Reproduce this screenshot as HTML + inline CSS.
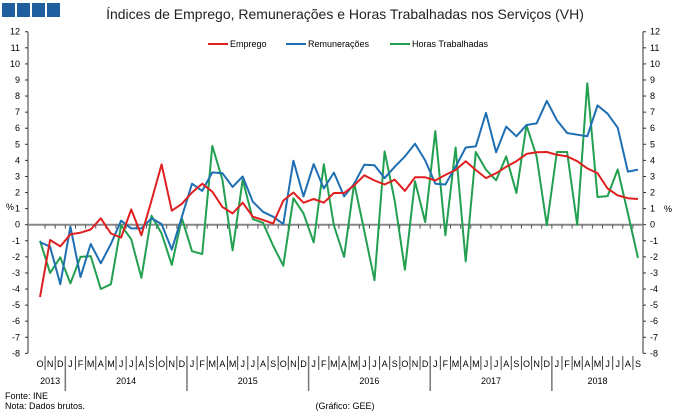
<!DOCTYPE html>
<html><head><meta charset="utf-8"><style>
body{margin:0;background:#fff;}
svg{display:block;font-family:"Liberation Sans",sans-serif;}
</style></head><body>
<svg id="chart" width="680" height="416" viewBox="0 0 680 416" xmlns="http://www.w3.org/2000/svg">
<rect x="0" y="0" width="680" height="416" fill="#fff"/>
<g>
<rect x="2" y="3" width="13" height="14" fill="#1f5f9f"/><rect x="17" y="3" width="13" height="14" fill="#1f5f9f"/><rect x="32" y="3" width="13" height="14" fill="#1f5f9f"/><rect x="47" y="3" width="13" height="14" fill="#1f5f9f"/>
</g>
<text x="345" y="19" font-size="14" text-anchor="middle" fill="#222">Índices de Emprego, Remunerações e Horas Trabalhadas nos Serviços (VH)</text>
<g id="legend" font-size="9" fill="#000">
<g><line x1="208" y1="44" x2="228" y2="44" stroke="#e02020" stroke-width="2"/><text x="230" y="47">Emprego</text></g>
<g><line x1="286" y1="44" x2="306" y2="44" stroke="#1f6fb2" stroke-width="2"/><text x="308" y="47">Remunerações</text></g>
<g><line x1="390" y1="44" x2="410" y2="44" stroke="#22a050" stroke-width="2"/><text x="412" y="47">Horas Trabalhadas</text></g>
</g>
<g id="axes"></g>
<g id="series"></g>
<text x="5" y="399" font-size="9">Fonte: INE</text>
<text x="5" y="409" font-size="9">Nota: Dados brutos.</text>
<text x="345" y="409" font-size="9" text-anchor="middle">(Gráfico: GEE)</text>
</svg>
<script>
const months = ["O","N","D","J","F","M","A","M","J","J","A","S","O","N","D","J","F","M","A","M","J","J","A","S","O","N","D","J","F","M","A","M","J","J","A","S","O","N","D","J","F","M","A","M","J","J","A","S","O","N","D","J","F","M","A","M","J","J","A","S"];
const years = ["2013","2014","2015","2016","2017","2018"];
const yTicks = [-8,-7,-6,-5,-4,-3,-2,-1,0,1,2,3,4,5,6,7,8,9,10,11,12];
const emprego = [-4.5,-0.95,-1.35,-0.6,-0.5,-0.3,0.4,-0.55,-0.8,0.95,-0.65,1.5,3.75,0.87,1.3,2.0,2.55,2.05,1.1,0.7,1.37,0.5,0.3,0.07,1.5,2.0,1.37,1.6,1.37,1.97,1.97,2.45,3.07,2.75,2.5,2.8,2.1,2.95,2.95,2.75,3.1,3.4,3.95,3.4,2.9,3.2,3.6,3.95,4.4,4.5,4.52,4.35,4.25,3.95,3.5,3.2,2.25,1.82,1.65,1.6];
const remuneracoes = [-1.08,-1.37,-3.7,-0.12,-3.25,-1.2,-2.4,-1.2,0.25,-0.23,-0.23,0.4,0.04,-1.55,0.5,2.55,2.1,3.25,3.2,2.35,3.0,1.43,0.8,0.5,0.04,3.98,1.76,3.77,2.25,3.24,1.76,2.55,3.73,3.7,2.9,3.6,4.25,5.04,4.0,2.55,2.5,3.6,4.8,4.87,6.95,4.5,6.1,5.5,6.2,6.3,7.7,6.5,5.7,5.6,5.5,7.42,6.9,6.03,3.3,3.42];
const horas = [-1.0,-3.0,-2.03,-3.65,-2.0,-1.95,-4.0,-3.7,-0.04,-0.9,-3.3,0.56,-0.55,-2.5,0.4,-1.65,-1.83,4.9,2.8,-1.6,2.8,0.35,0.12,-1.3,-2.55,1.65,0.7,-1.1,3.77,-0.05,-2.0,2.6,-0.4,-3.45,4.56,1.5,-2.8,2.7,0.17,5.82,-0.66,4.8,-2.28,4.52,3.42,2.76,4.25,1.97,6.18,4.25,-0.04,4.52,4.52,0,8.8,1.72,1.78,3.44,0.7,-2.07];

const NS="http://www.w3.org/2000/svg";
const L=28,R=643,x0=40,dx=(638-40)/59;
const y=v=>224.7-v*16.08;
const x=i=>x0+i*dx;
function mk(tag,attrs,parent){const e=document.createElementNS(NS,tag);for(const k in attrs)e.setAttribute(k,attrs[k]);parent.appendChild(e);return e;}
const ax=document.getElementById('axes');
// left/right axis
let e=mk('line',{x1:L,y1:y(12),x2:L,y2:y(-8),stroke:'#333','stroke-width':1},ax);


e=mk('line',{x1:R,y1:y(12),x2:R,y2:y(-8),stroke:'#333','stroke-width':1},ax);


yTicks.forEach(v=>{
  mk('line',{x1:L-3,y1:y(v),x2:L,y2:y(v),stroke:'#333'},ax);
  mk('line',{x1:R,y1:y(v),x2:R+3,y2:y(v),stroke:'#333'},ax);
  let t=mk('text',{x:L-8,y:y(v)+3,'font-size':9,'text-anchor':'end'},ax);t.textContent=v;
  
  
  t=mk('text',{x:R+7,y:y(v)+3,'font-size':9},ax);t.textContent=v;
  
  
});
let p=mk('text',{x:6,y:210,'font-size':9},ax);p.textContent='%';


p=mk('text',{x:664,y:212,'font-size':9},ax);p.textContent='%';


// zero line
e=mk('line',{x1:L,y1:y(0),x2:R,y2:y(0),stroke:'#888','stroke-width':2},ax);


// month labels & ticks
const yearStarts=[0];
months.forEach((m,i)=>{
  const bx=x(i)+dx/2;
  mk('line',{x1:bx,y1:y(0),x2:bx,y2:y(0)+4,stroke:'#555'},ax);
  if(i<months.length-1){
    const isYear=months[i+1]==="J"&&m==="D";
    if(isYear) yearStarts.push(i+1);
    mk('line',{x1:bx,y1:356,x2:bx,y2:isYear?391:370,stroke:isYear?'#777':'#444','stroke-width':isYear?1.5:1},ax);
  }
  const t=mk('text',{x:x(i),y:367,'font-size':9,'text-anchor':'middle'},ax);t.textContent=m;
  
  
});
yearStarts.push(months.length);
years.forEach((yr,k)=>{
  const a=yearStarts[k],b=yearStarts[k+1]-1;
  const t=mk('text',{x:(x(a)+x(b))/2,y:384,'font-size':9,'text-anchor':'middle'},ax);t.textContent=yr;
  
  
});
const sg=document.getElementById('series');
[[horas,'#22a050','series-horas-trabalhadas'],[remuneracoes,'#1f6fb2','series-remuneracoes'],[emprego,'#e02020','series-emprego']].forEach(([d,c,n])=>{
  const pl=mk('polyline',{points:d.map((v,i)=>x(i).toFixed(1)+','+y(v).toFixed(1)).join(' '),fill:'none',stroke:c,'stroke-width':2,'stroke-linejoin':'round'},sg);
  
  
});
</script>
</body></html>
